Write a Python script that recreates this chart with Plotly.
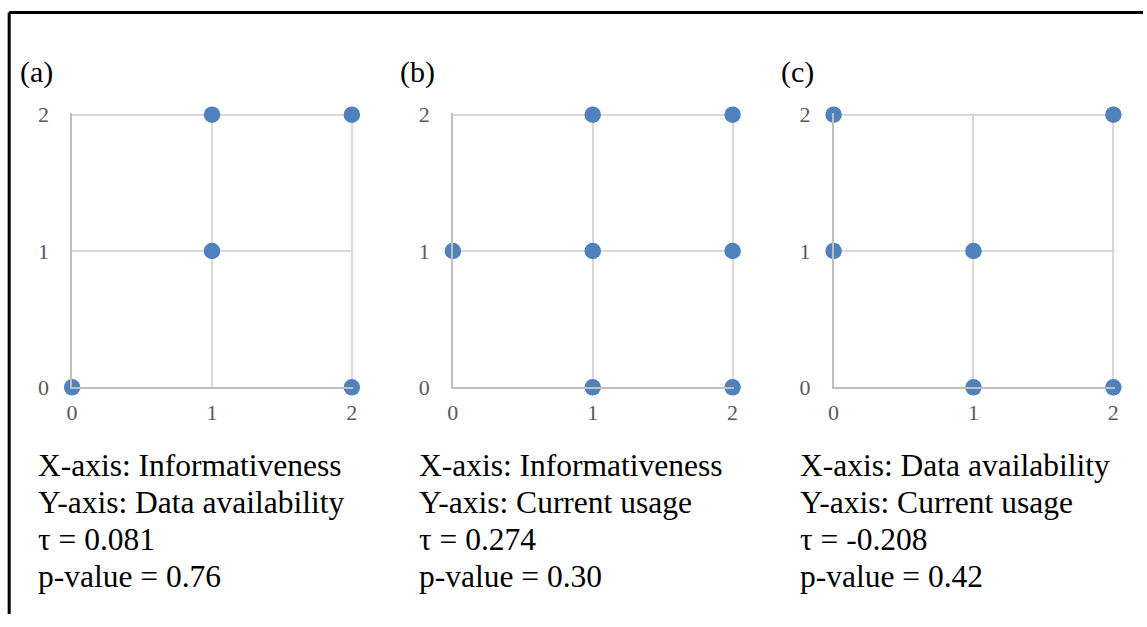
import plotly.graph_objects as go

# Ratings on a 0-2 scale for each pair of criteria
a_x = [1, 2, 1, 0, 2]
a_y = [2, 2, 1, 0, 0]
b_x = [1, 2, 0, 1, 2, 1, 2]
b_y = [2, 2, 1, 1, 1, 0, 0]
c_x = [0, 2, 0, 1, 1, 2]
c_y = [2, 2, 1, 1, 0, 0]

panel_tags = ["(a)", "(b)", "(c)"]
x_names = ["Informativeness", "Informativeness", "Data availability"]
y_names = ["Data availability", "Current usage", "Current usage"]
taus = ["0.081", "0.274", "-0.208"]
pvals = ["0.76", "0.30", "0.42"]
tick_vals = [0, 1, 2]
tick_text = ["0", "1", "2"]

W, H = 1147, 627
SERIF = "Liberation Serif, Times New Roman, serif"
BLUE = "#4f81bd"
GRID = "#d9d9d9"
AXIS = "#bfbfbf"
TICK = "#595959"
RANGE_MAX = 2.01  # a hair past 2 so the gridlines at 2 are drawn


def px_x(v):
    return v / W


def px_y(v):
    return 1 - v / H


fig = go.Figure()

series = [(a_x, a_y), (b_x, b_y), (c_x, c_y)]
plot_left = [66.7, 450.8, 834.9]
unit_w = 141.1
top_px, bottom_px = 107.8, 391.3
unit_h = (bottom_px - top_px) / 2
line_gap = 38.4

for i, (xs, ys) in enumerate(series):
    n = "" if i == 0 else str(i + 1)
    fig.add_trace(go.Scatter(
        x=xs, y=ys, mode="markers",
        marker=dict(color=BLUE, size=16.5, line=dict(width=0)),
        cliponaxis=False, showlegend=False,
        xaxis="x" + n, yaxis="y" + n,
    ))
    common = dict(
        range=[0, RANGE_MAX], tickmode="array", tickvals=tick_vals,
        ticktext=tick_text,
        showgrid=True, gridcolor=GRID, gridwidth=1.5,
        showline=True, linecolor=AXIS, linewidth=1.5,
        zeroline=False, ticks="outside", tickcolor="rgba(0,0,0,0)",
        tickfont=dict(family=SERIF, size=22, color=TICK),
        fixedrange=True,
    )
    fig.update_layout(**{
        "xaxis" + n: dict(
            domain=[px_x(plot_left[i]),
                    px_x(plot_left[i] + unit_w * RANGE_MAX)],
            anchor="y" + n, ticklen=5, **common),
        "yaxis" + n: dict(
            domain=[px_y(bottom_px), px_y(bottom_px - unit_h * RANGE_MAX)],
            anchor="x" + n, ticklen=17, **common),
    })

    # Panel tag above each plot
    fig.add_annotation(
        x=px_x(plot_left[i] - 55), y=px_y(63.7), xref="paper", yref="paper",
        text=panel_tags[i], showarrow=False, xanchor="left", yanchor="middle",
        font=dict(family=SERIF, size=30, color="black"),
    )

    # Caption lines below each plot
    lines = [
        "X-axis: " + x_names[i],
        "Y-axis: " + y_names[i],
        "τ = " + taus[i],
        "p-value = " + pvals[i],
    ]
    for k, line in enumerate(lines):
        fig.add_annotation(
            x=px_x(plot_left[i] - 36), y=px_y(472.3 + line_gap * k),
            xref="paper", yref="paper", text=line, showarrow=False,
            xanchor="left", yanchor="middle",
            font=dict(family=SERIF, size=31.5, color="black"),
        )

# Frame around the figure (left and top edges)
fig.add_shape(type="line", xref="paper", yref="paper",
              x0=px_x(3.2), y0=0, x1=px_x(3.2), y1=px_y(1.5),
              line=dict(color="black", width=3))
fig.add_shape(type="line", xref="paper", yref="paper",
              x0=px_x(3.2), y0=px_y(1.5), x1=1, y1=px_y(1.5),
              line=dict(color="black", width=3))

fig.update_layout(
    width=W, height=H,
    margin=dict(l=0, r=0, t=0, b=0),
    paper_bgcolor="white", plot_bgcolor="white",
)

fig.write_html("out.html", config={"displayModeBar": False})
